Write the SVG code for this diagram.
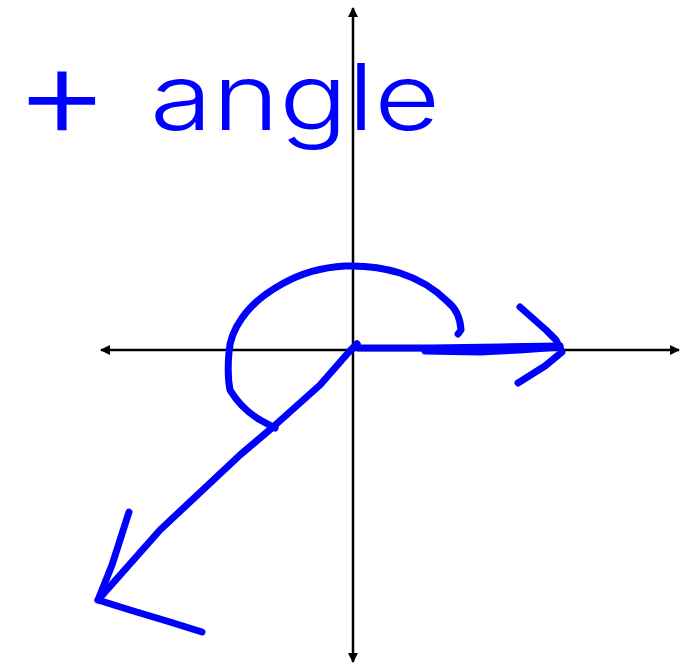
<svg xmlns="http://www.w3.org/2000/svg" width="681" height="666" viewBox="0 0 681 666">
  <style>
    .axis { stroke: #000; stroke-width: 2.5; fill: none; }
    .ink { stroke: #0000ff; stroke-width: 7; fill: none; stroke-linecap: round; stroke-linejoin: round; }
    .label { fill: #0000ff; font-family: Inter, "Liberation Sans", "DejaVu Sans", sans-serif; font-weight: 300; }
  </style>
  <defs>
    <marker id="ah" viewBox="0 0 10 10" refX="9" refY="5" markerWidth="11" markerHeight="10" markerUnits="userSpaceOnUse" orient="auto-start-reverse">
      <path d="M0,0 L10,5 L0,10 Z" fill="#000"/>
    </marker>
  </defs>
  <rect width="681" height="666" fill="#fff"/>

  <g id="axes">
    <line class="axis" x1="353" y1="8" x2="353" y2="662" marker-start="url(#ah)" marker-end="url(#ah)"/>
    <line class="axis" x1="101" y1="350" x2="679" y2="350" marker-start="url(#ah)" marker-end="url(#ah)"/>
  </g>

  <g id="label">
    <text class="label" font-size="130" x="14" y="138" textLength="96" lengthAdjust="spacingAndGlyphs">+</text>
    <text class="label" font-size="92" x="150" y="130" textLength="290" lengthAdjust="spacingAndGlyphs">angle</text>
  </g>

  <g id="connectors">
    <g id="vector-initial">
      <path class="ink" d="M351,350 L357,344 L358,348 L430,348 L500,347 L560,346"/>
      <path class="ink" d="M425,351 L480,352 L520,350 L560,347"/>
      <path class="ink" d="M520,307 L546,330 L556,340 L562,352 L545,366 L518,383"/>
    </g>
    <g id="vector-terminal">
      <path class="ink" d="M357,344 L348,353 L320,385 L273,427 L240,455 L160,530 L98,600"/>
      <path class="ink" d="M129,512 L112,565 L98,600 L130,610 L170,622 L202,632"/>
    </g>
    <g id="angle-arc">
      <path class="ink" d="M458,334 L461,330 Q460,312 448,302 Q428,282 400,273 Q375,265 345,266 Q310,268 282,284 Q255,299 242,318 Q230,335 229,352 Q227,375 230,390 Q242,410 262,421 L275,428"/>
    </g>
  </g>
</svg>
